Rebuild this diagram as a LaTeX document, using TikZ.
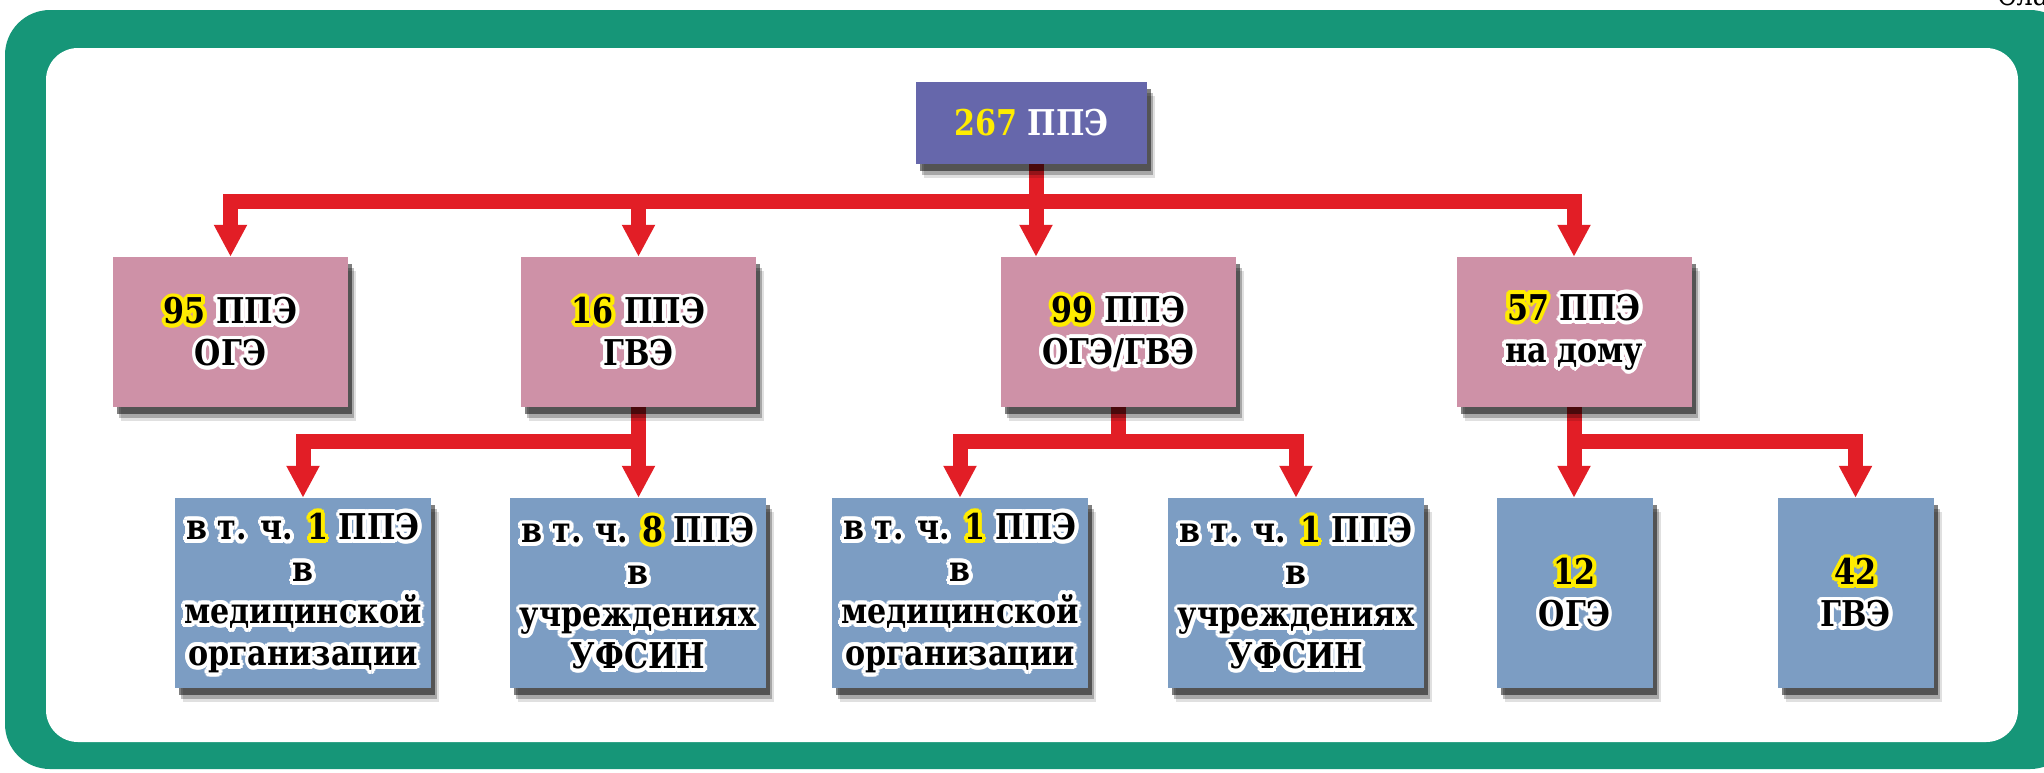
\documentclass[tikz,border=0pt]{standalone}
\usepackage{fontspec}
\setmainfont{DejaVu Serif}[FakeStretch=0.85]
\usetikzlibrary{arrows.meta,shadows,calc}
\definecolor{frame}{RGB}{22,150,120}
\definecolor{pinkbox}{RGB}{206,145,167}
\definecolor{bluebox}{RGB}{124,157,195}
\definecolor{topbox}{RGB}{102,103,171}
\definecolor{arrred}{RGB}{226,30,38}
\definecolor{numyel}{RGB}{255,236,0}
\pgfdeclarelayer{back}
\pgfdeclarelayer{mid}
\pgfsetlayers{back,mid,main}
\newcommand\numcol{black}
\newcommand\nm[1]{{\color{\numcol}#1}}
\tikzset{
 boxbase/.style={rectangle, inner sep=0pt, draw=none,
   drop shadow={shadow xshift=8pt, shadow yshift=-14pt, fill=black, opacity=0.12},
   drop shadow={shadow xshift=6pt, shadow yshift=-11pt, fill=black, opacity=0.25},
   drop shadow={shadow xshift=4pt, shadow yshift=-7pt, fill=black, opacity=0.5}},
 pinkb/.style={boxbase, fill=pinkbox, minimum width=235pt, minimum height=150pt},
 blueb/.style={boxbase, fill=bluebox, minimum width=256pt, minimum height=190pt},
 smallb/.style={boxbase, fill=bluebox, minimum width=156pt, minimum height=190pt},
 topb/.style={boxbase, fill=topbox, minimum width=231pt, minimum height=82pt},
 txt/.style={font=\fontsize{35.5}{42}\selectfont\bfseries, align=center, inner sep=0pt, text=black},
 halo/.style={txt, text=white, execute at begin node={\def\numcol{numyel}}},
 conn/.style={draw=arrred, line width=15pt},
 arr/.style={conn, -{Triangle[length=32pt,width=31pt]}},
}
\newcommand\otext[3]{%
  \foreach \ang in {0,22.5,...,337.5} {\node[halo] at ($(#1)+(\ang:3.8)$) {#3};}
  \node[txt] (#2) at (#1) {#3};
}
\begin{document}
\begin{tikzpicture}[x=1pt,y=-1pt]
\begin{pgfonlayer}{back}
\path[use as bounding box, fill=white] (0,0) rectangle (2044,772);
\fill[frame, rounded corners=45pt] (5,10) rectangle (2075,769);
\fill[white, rounded corners=32pt] (46,48) rectangle (2018,742);
\node[anchor=base west, font=\fontsize{30}{30}\selectfont, inner sep=0pt] (slide) at (1997,5) {Слайд};
\end{pgfonlayer}

% boxes
\node[topb] (top) at (1031.5,123) {};
\node[txt] (toptext) at (top.center) {\textcolor{numyel}{267} \textcolor{white}{ППЭ}};

\node[pinkb] (A) at (230.5,332) {};
\node[pinkb] (B) at (638.5,332) {};
\node[pinkb] (C) at (1118.5,332) {};
\node[pinkb] (D) at (1574,332) {};

\node[blueb] (E) at (303,593) {};
\node[blueb] (F) at (638,593) {};
\node[blueb] (G) at (960,593) {};
\node[blueb] (H) at (1296,593) {};
\node[smallb] (I) at (1574.5,593) {};
\node[smallb] (J) at (1855.5,593) {};

% texts
\otext{A}{tA}{\nm{95} ППЭ\\ОГЭ}
\otext{B}{tB}{\nm{16} ППЭ\\ГВЭ}
\otext{C}{tC}{\nm{99} ППЭ\\ОГЭ/ГВЭ}
\otext{D}{tD}{\nm{57} ППЭ\\на дому}
\otext{E}{tE}{в т. ч. \nm{1} ППЭ\\в\\медицинской\\организации}
\otext{F}{tF}{в т. ч. \nm{8} ППЭ\\в\\учреждениях\\УФСИН}
\otext{G}{tG}{в т. ч. \nm{1} ППЭ\\в\\медицинской\\организации}
\otext{H}{tH}{в т. ч. \nm{1} ППЭ\\в\\учреждениях\\УФСИН}
\otext{I}{tI}{\nm{12}\\ОГЭ}
\otext{J}{tJ}{\nm{42}\\ГВЭ}

% connectors
\begin{pgfonlayer}{mid}
\coordinate (bar) at (1036,201);
\draw[conn] (top.south -| bar) -- (bar);
\draw[arr] (bar) -| (A.north);
\draw[arr] (bar) -| (B.north);
\draw[arr] (bar) -- (bar |- C.north);
\draw[arr] (bar) -| (D.north);

\coordinate (bB) at (B.south |- 0,441);
\draw[conn] (B.south) -- (bB);
\draw[arr] (bB) -| (E.north);
\draw[arr] (bB) -- (bB |- F.north);

\coordinate (bC) at (C.south |- 0,441);
\draw[conn] (C.south) -- (bC);
\draw[arr] (bC) -| (G.north);
\draw[arr] (bC) -| (H.north);

\coordinate (bD) at (D.south |- 0,441);
\draw[conn] (D.south) -- (bD);
\draw[arr] (bD) -- (bD |- I.north);
\draw[arr] (bD) -| (J.north);
\end{pgfonlayer}
\end{tikzpicture}
\end{document}
